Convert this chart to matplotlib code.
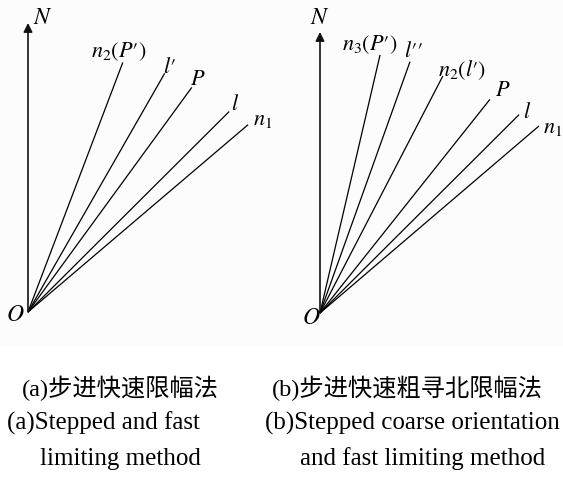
import numpy as np
import matplotlib
matplotlib.use("Agg")
import matplotlib.pyplot as plt

plt.rcParams['mathtext.fontset'] = 'stix'

# ---- data: direction of each line (degrees clockwise from north) and its length ----
left_names = [r"$n_2(P\prime)$", r"$l\prime$", r"$P$", r"$l$", r"$n_1$"]
left_angles = [20.8, 29.8, 36.1, 45.1, 49.6]
left_lengths = [267, 275, 278, 284, 289]

right_names = [r"$n_3(P\prime)$", r"$l\prime\prime$", r"$n_2(l\prime)$", r"$P$", r"$l$", r"$n_1$"]
right_angles = [13.1, 19.7, 27.4, 38.5, 45.1, 49.5]
right_lengths = [265, 267, 267, 273, 281, 288]

captions_cn = ["(a)步进快速限幅法", "(b)步进快速粗寻北限幅法"]
captions_en1 = ["(a)Stepped and fast", "(b)Stepped coarse orientation"]
captions_en2 = ["limiting method", "and fast limiting method"]

# ---- layout / style (pixel coordinates) ----
W, H = 563, 479
fig = plt.figure(figsize=(W / 100, H / 100), dpi=100)
ax = fig.add_axes([0, 0, 1, 1])
ax.set_xlim(0, W)
ax.set_ylim(H, 0)
ax.axis('off')
ax.axhspan(0, 347, color='#fcfcfc', lw=0, zorder=0)

panels = [
    dict(origin=(28, 312), north_len=289, names=left_names, angles=left_angles,
         lengths=left_lengths, N=(43, 17), O=(15, 314),
         offs=[(-4, -11), (5, -6), (6, -8), (6, -8), (15, -5)]),
    dict(origin=(320, 313), north_len=281, names=right_names, angles=right_angles,
         lengths=right_lengths, N=(320, 17), O=(311, 317),
         offs=[(-10, -10), (4, -11), (19, -6), (13, -9), (8, -3), (14, 2)]),
]

label_fs = 16
for p in panels:
    ox, oy = p['origin']
    # north arrow
    ax.annotate('', xy=(ox, oy - p['north_len']), xytext=(ox, oy),
                arrowprops=dict(arrowstyle='-|>', lw=1.2, color='#111111',
                                mutation_scale=13, shrinkA=0, shrinkB=0))
    ax.text(p['N'][0], p['N'][1], r"$N$", fontsize=17, ha='center', va='center')
    ax.text(p['O'][0], p['O'][1], r"$O$", fontsize=17, ha='center', va='center')
    for name, ang, ln, off in zip(p['names'], p['angles'], p['lengths'], p['offs']):
        a = np.deg2rad(ang)
        ex, ey = ox + ln * np.sin(a), oy - ln * np.cos(a)
        ax.plot([ox, ex], [oy, ey], color='black', lw=0.9, solid_capstyle='butt')
        ax.text(ex + off[0], ey + off[1], name, fontsize=label_fs, ha='center', va='center')

cn_fam = ['Liberation Serif', 'Noto Sans CJK SC']
ax.text(22, 388, captions_cn[0], family=cn_fam, fontsize=17.5, ha='left', va='center')
ax.text(272, 388, captions_cn[1], family=cn_fam, fontsize=17.5, ha='left', va='center')
ax.text(7, 423, captions_en1[0], family='Liberation Serif', fontsize=18, ha='left', va='center')
ax.text(265, 423, captions_en1[1], family='Liberation Serif', fontsize=18, ha='left', va='center')
ax.text(40, 459, captions_en2[0], family='Liberation Serif', fontsize=18, ha='left', va='center')
ax.text(300, 459, captions_en2[1], family='Liberation Serif', fontsize=18, ha='left', va='center')

fig.savefig('out.png', dpi=100, facecolor='white')
